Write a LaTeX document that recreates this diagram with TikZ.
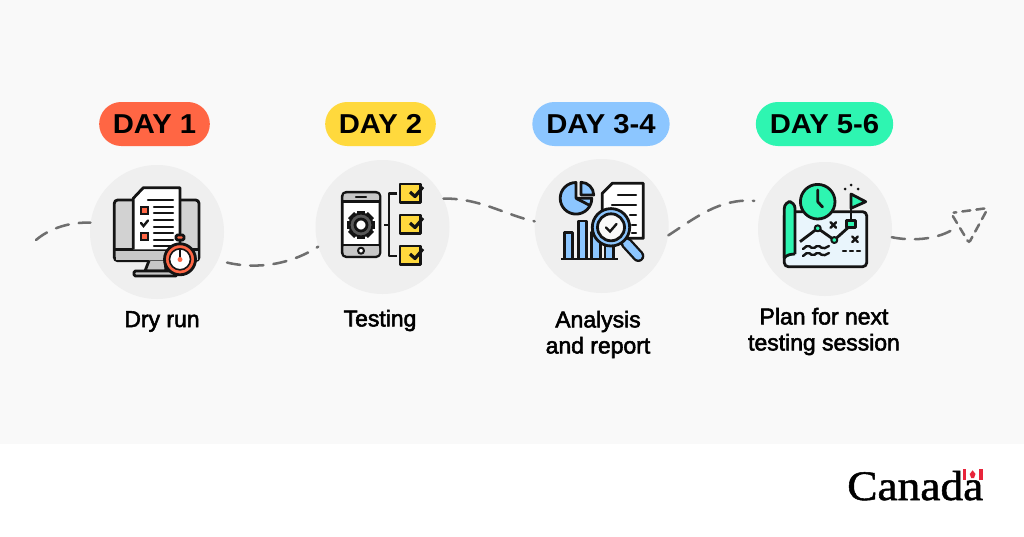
\documentclass[tikz,border=0pt]{standalone}
\usepackage{fontspec}
\setmainfont{Liberation Sans}
\newfontfamily\wordfont[FakeBold=1.2, FakeStretch=1.08]{Liberation Serif}
\newfontfamily\midfont[FakeBold=2.4]{Liberation Sans}
\newfontfamily\pillfont[FakeStretch=1.07]{Liberation Sans}
\definecolor{panelc}{HTML}{F9F9F9}
\definecolor{discc}{HTML}{EFEFEF}
\definecolor{inkc}{HTML}{141414}
\definecolor{pathc}{HTML}{6F6F6F}
\definecolor{redc}{HTML}{FF6644}
\definecolor{yelc}{HTML}{FFD93D}
\definecolor{bluc}{HTML}{8CC6FF}
\definecolor{grnc}{HTML}{2EF5B1}
\definecolor{mapc}{HTML}{E9F5FC}
\definecolor{flagc}{HTML}{E8253B}
\begin{document}
\begin{tikzpicture}[
x=0.75pt, y=-0.75pt,
disc/.style = {circle, fill=discc, inner sep=0pt, minimum size=100.5pt},
pill/.style = {rounded corners=16.5pt, minimum width=83pt, minimum height=33pt, inner sep=0pt, font=\fontsize{20.5}{24}\pillfont\bfseries},
caption/.style = {align=center, inner sep=0pt, font=\fontsize{17.2}{19.5}\midfont},
trail/.style = {draw=pathc, line width=1.9pt, line cap=round, dash pattern=on 10pt off 7.5pt},
ink/.style = {draw=inkc, line width=2.1pt, line join=round},
rule/.style = {draw=inkc, line width=1.8pt, line cap=round}
                        ]
\useasboundingbox (0,0) rectangle (1024,536);
\fill[white] (0,0) rectangle (1024,536);
\fill[panelc] (0,0) rectangle (1024,444);
%
\node[disc] (dryrun) at (157,232) {};
\node[disc] (testing) at (382.5,227) {};
\node[disc] (analysis) at (601.7,226) {};
\node[disc] (plan) at (825,229) {};
%
\node[pill, fill=redc] (dayone) at (154.5,124) {DAY 1};
\node[pill, fill=yelc] (daytwo) at (380.5,124) {DAY 2};
\node[pill, fill=bluc, minimum width=103pt] (daythree) at (601,124) {DAY 3-4};
\node[pill, fill=grnc, minimum width=103pt] (dayfive) at (824.5,124) {DAY 5-6};
%
\node[caption] (lbldry) at (162,321.5) {Dry run};
\node[caption] (lbltest) at (380,320.5) {Testing};
\node[caption] (lblana) at (598,334.5) {Analysis\\and report};
\node[caption] (lblplan) at (824,331.5) {Plan for next\\testing session};
%
\coordinate (tail) at (36,240);
\coordinate (wing) at (952,230);
\coordinate (nose) at (988,208);
\coordinate (back) at (951,213);
\coordinate (keel) at (969,243);
\draw[trail] (tail) .. controls (50,228) and (70,222) .. (dryrun.172);
\draw[trail, shorten <=7pt] (dryrun.-25) .. controls (250,268) and (285,268) .. (testing.197);
\draw[trail] (testing.25) .. controls (480,198) and (505,215) .. (analysis.176);
\draw[trail, shorten >=7pt] (analysis.-8) .. controls (695,218) and (720,198) .. (plan.156);
\draw[trail] (plan.-7) .. controls (910,241) and (935,240) .. (wing);
\draw[trail, rounded corners=2pt, dash pattern=on 6pt off 4.6pt, dash phase=4pt] (back) -- (nose) -- (keel) -- cycle;
%
% computer and sheet
\draw[ink, fill=discc!88!black, rounded corners=2.5pt] (114.3,200) rectangle (199,260.7);
\fill[black!22] (115.5,249) rectangle (198,260);
\draw[ink] (114.3,249.3) -- (199,249.3);
\draw[ink, fill=black!22] (149,260.7) -- (145,271) -- (166,271) -- (165,260.7);
\draw[ink, fill=black!22, rounded corners=1pt] (134,271) rectangle (177,276);
\draw[ink, fill=white] (133.3,249.3) -- (133.3,198.3) -- (143.3,187.7) -- (180,187.7) -- (180,249.3);
\foreach \y/\a in {200/148, 207/154, 213/154, 220/154, 227/154, 233/154, 240/154, 246/154}
{
    \draw[rule] (\a,\y) -- (173,\y);
}
\foreach \y in {210,236.7}
{
    \draw[inkc, fill=redc, line width=1.5pt] (140.5,\y-3.5) rectangle (147.5,\y+3.5);
}
\draw[rule] (141,223) -- (143.5,226) -- (148,220.5);
% stopwatch
\draw[ink, fill=redc, rounded corners=1pt] (176,235) rectangle (184,240);
\draw[ink, fill=redc] (180,259.3) circle (15.5);
\draw[inkc, line width=1.2pt, fill=white] (180,259.3) circle (10.5);
\draw[rule] (180,250) -- (180,259);
\fill[redc] (180,259.5) circle (2.5);
%
% phone with gear
\draw[ink, fill=white, rounded corners=3pt] (342.3,192.3) rectangle (380,256.7);
\fill[black!22, rounded corners=2pt] (343.5,193.5) rectangle (379,201.7);
\fill[black!22, rounded corners=2pt] (343.5,245) rectangle (379,255.5);
\draw[ink] (342.3,201.7) -- (380,201.7);
\draw[ink] (342.3,245) -- (380,245);
\draw[rule] (356,197) -- (366,197);
\draw[ink, line width=1.5pt, fill=white] (361,250.7) circle (3);
\foreach \a in {0,45,...,315}
{
    \draw[inkc, line width=6.5pt] (361,225) ++(\a:10) -- ++(\a:4);
}
\draw[inkc, fill=black!65, line width=1.5pt] (361,225) circle (11.5);
\draw[ink, fill=white] (361,225) circle (6);
% bracket and boxes
\draw[ink] (397.3,193.3) -- (389,193.3) -- (389,256) -- (397.3,256);
\draw[ink] (384,225) -- (389,225);
\foreach \y in {184,215,246}
{
    \draw[ink, fill=yelc] (400,\y) rectangle (420.7,\y+18.5);
    \draw[ink, line width=2.4pt] (410,\y+8) -- (415,\y+12.5) -- (423,\y+3);
}
%
% pie and bars
\draw[ink, fill=bluc] (576,198.3) -- (576,182.5) arc (-90:-360:15.8) -- cycle;
\draw[ink, fill=bluc] (581,182.3) arc (-90:0:12.7) -- (581,195) -- cycle;
\draw[ink] (576,198.3) -- (590,205.5);
\foreach \l/\t in {564.3/232.7, 578.3/221, 591.7/232, 605/245}
{
    \draw[ink, fill=bluc] (\l,259) rectangle (\l+8.4,\t);
}
\draw[ink] (561,259) -- (618.3,259);
% sheet and lens
\draw[ink, fill=white] (602.3,215) -- (602.3,193.3) -- (612.3,183.3) -- (643.3,183.3) -- (643.3,238.3) -- (625,238.3);
\foreach \y/\a in {195/618, 205/612, 215/630, 225/632, 233/632}
{
    \draw[rule] (\a,\y) -- (636,\y);
}
\draw[inkc, line width=9pt, line cap=round] (626.7,243.3) -- (638.3,256);
\draw[bluc, line width=5.5pt, line cap=round] (626.7,243.3) -- (638.3,256);
\draw[ink, fill=bluc] (611,227.3) circle (18.7);
\draw[ink, fill=discc!40!white] (611,227.3) circle (13.5);
\draw[rule] (606,227.5) -- (610,231.5) -- (616.5,224);
%
% map
\draw[ink, fill=mapc, rounded corners=3pt] (784.3,211.7) -- (866.7,211.7) -- (866.7,266.7) -- (784.3,266.7) -- cycle;
\draw[ink, fill=grnc, rounded corners=5pt] (784.3,258) -- (784.3,201.7) -- (795,201.7) -- (795,254);
\draw[ink, fill=grnc] (795,254) .. controls (791,254) and (786,255) .. (784.3,258);
\draw[ink, fill=grnc] (817.7,201.7) circle (17.3);
\draw[ink, line cap=round] (817.7,190) -- (817.7,201.7) -- (822.5,207);
\draw[ink] (800,241.7) -- (817.7,228.3) -- (834.3,240) -- (851,225);
\draw[ink, line width=1.5pt, fill=grnc] (817.7,228.3) circle (3);
\draw[ink, line width=1.5pt, fill=grnc] (834.3,240) circle (3);
\draw[ink] (851,222) -- (851,193.3);
\draw[ink, fill=grnc] (851,194) -- (865.7,201.7) -- (851,208.3) -- cycle;
\draw[ink, fill=grnc] (846.7,220.7) rectangle (855.7,227.3);
\foreach \a/\b in {845/189, 851/185, 858/189}
{
    \fill[inkc] (\a,\b) circle (1.5);
}
\foreach \a/\b in {833.3/225, 855/239.3}
{
    \draw[rule] (\a-2.8,\b-2.8) -- (\a+2.8,\b+2.8);
    \draw[rule] (\a-2.8,\b+2.8) -- (\a+2.8,\b-2.8);
}
\foreach \a in {843,850,857}
{
    \draw[rule] (\a,251) -- (\a+3,251);
}
\foreach \y in {249,256}
{
    \draw[rule, rounded corners=1.5pt] (803,\y) -- (808,\y-4) -- (813,\y) -- (818,\y-4) -- (823,\y) -- (829,\y-3);
}
%
% wordmark
\node[inner sep=0pt, anchor=base west, font=\fontsize{31.5}{36}\wordfont] (word) at (847,500) {Canada};
\fill[flagc] (962.5,469.3) rectangle (966.2,479.5);
\fill[flagc] (979,469.3) rectangle (982.7,479.5);
\fill[flagc] (972.6,470.3) -- (975.5,474) -- (974,478) -- (971.2,478) -- (969.7,474) -- cycle;
\end{tikzpicture}
\end{document}
